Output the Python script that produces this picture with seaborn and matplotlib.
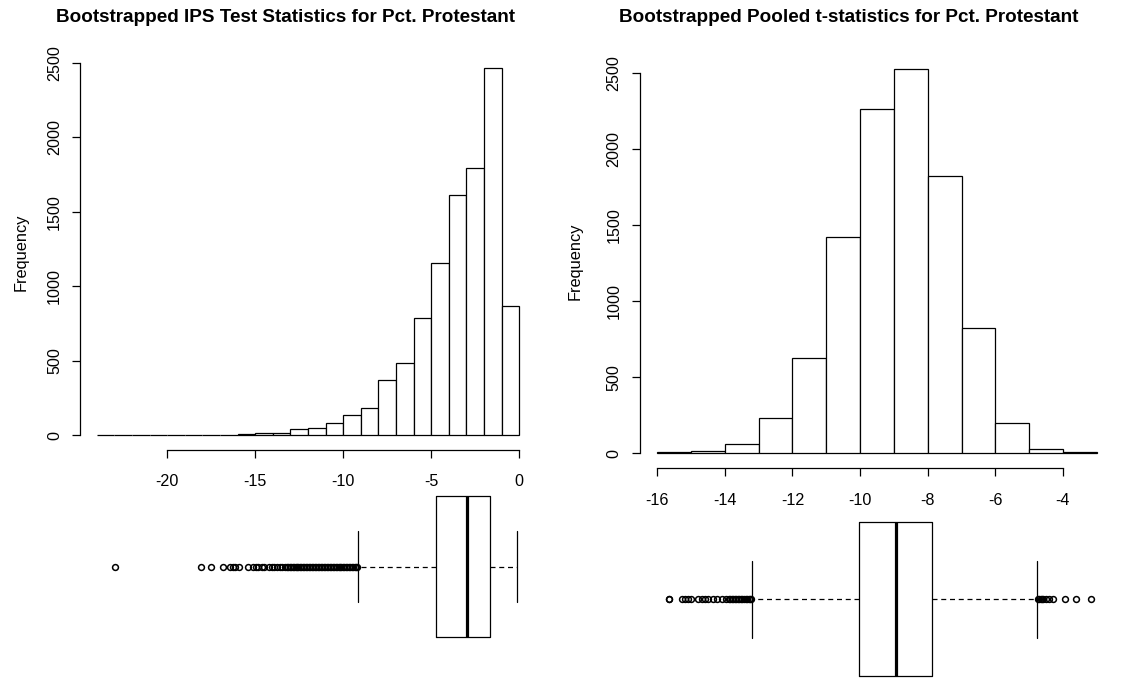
import numpy as np
import pandas as pd
import matplotlib
matplotlib.use("Agg")
import matplotlib.pyplot as plt
import seaborn as sns

# ---------------- data ----------------
ips_title = "Bootstrapped IPS Test Statistics for Pct. Protestant"
pooled_title = "Bootstrapped Pooled t-statistics for Pct. Protestant"

ips_edges = [-24, -23, -22, -21, -20, -19, -18, -17, -16, -15, -14, -13, -12,
             -11, -10, -9, -8, -7, -6, -5, -4, -3, -2, -1, 0]
ips_counts = [0, 1, 0, 0, 0, 0, 2, 4, 6, 15, 13, 45, 51,
              80, 136, 183, 373, 485, 789, 1153, 1611, 1792, 2462, 865]
ips_xticks = [-20, -15, -10, -5, 0]

pooled_edges = [-16, -15, -14, -13, -12, -11, -10, -9, -8, -7, -6, -5, -4, -3]
pooled_counts = [5, 15, 59, 232, 627, 1425, 2268, 2529, 1822, 820, 195, 28, 4]
pooled_xticks = [-16, -14, -12, -10, -8, -6, -4]

yticks = [0, 500, 1000, 1500, 2000, 2500]

# boxplot summaries (q1, median, q3, lower whisker, upper whisker)
ips_box = dict(q1=-4.72, med=-2.99, q3=-1.68, whislo=-9.18, whishi=-0.13)
ips_outliers = [-22.98, -18.10, -17.52, -16.85, -16.44, -16.29, -16.15, -15.91,
                -15.40, -15.11, -14.96, -14.83, -14.64, -14.49, -14.20, -14.07,
                -13.92, -13.78, -13.60, -13.45, -13.31, -13.22, -13.14, -13.05,
                -12.97, -12.88, -12.80, -12.71, -12.63, -12.55, -12.46, -12.38,
                -12.29, -12.21, -12.12, -12.04, -11.95, -11.87, -11.78, -11.70,
                -11.62, -11.53, -11.45, -11.36, -11.28, -11.19, -11.11, -11.02,
                -10.94, -10.86, -10.77, -10.69, -10.60, -10.52, -10.43, -10.35,
                -10.26, -10.18, -10.10, -10.01, -9.93, -9.84, -9.76, -9.67,
                -9.59, -9.50, -9.42, -9.34, -9.27, -9.21]

pooled_box = dict(q1=-10.03, med=-8.94, q3=-7.88, whislo=-13.19, whishi=-4.76)
pooled_outliers = [-15.65, -15.64, -15.28, -15.18, -15.08, -15.01, -14.79, -14.69,
                   -14.59, -14.49, -14.34, -14.22, -14.09, -13.97, -13.88, -13.84,
                   -13.80, -13.75, -13.70, -13.66, -13.62, -13.57, -13.52, -13.48,
                   -13.44, -13.39, -13.35, -13.30, -13.26, -13.22,
                   -4.74, -4.70, -4.66, -4.62, -4.58, -4.50, -4.40, -4.30,
                   -3.94, -3.62, -3.17]

# ---------------- style ----------------
sns.set_style("ticks")
plt.rcParams["font.family"] = ["Liberation Sans", "DejaVu Sans"]
plt.rcParams["text.color"] = "black"
plt.rcParams["axes.labelcolor"] = "black"

W, H = 1141, 679
fig = plt.figure(figsize=(W / 100, H / 100), dpi=100)


def px_axes(x0, y0, x1, y1):
    return fig.add_axes([x0 / W, 1 - y1 / H, (x1 - x0) / W, (y1 - y0) / H])


def r_xlim(lo, hi):
    ext = 0.04 * (hi - lo)
    return lo - ext, hi + ext


def draw_hist(ax, edges, counts, xticks, ylabel_pad):
    e = np.asarray(edges, dtype=float)
    df = pd.DataFrame({"value": (e[:-1] + e[1:]) / 2, "count": counts})
    sns.histplot(data=df, x="value", weights="count", bins=list(edges), ax=ax,
                 color="white", edgecolor="black", linewidth=0.9, alpha=1.0)
    ax.set_xlim(*r_xlim(edges[0], edges[-1]))
    ax.set_ylim(*r_xlim(0, max(counts)))
    ax.set_xticks(xticks)
    ax.set_yticks(yticks)
    ax.set_xticklabels([str(t) for t in xticks])
    ax.set_yticklabels([str(t) for t in yticks], rotation=90, va="center")
    for s in ("top", "right"):
        ax.spines[s].set_visible(False)
    ax.spines["bottom"].set_bounds(xticks[0], xticks[-1])
    ax.spines["left"].set_bounds(yticks[0], yticks[-1])
    for s in ("bottom", "left"):
        ax.spines[s].set_linewidth(0.9)
        ax.spines[s].set_color("black")
    ax.tick_params(axis="both", direction="out", length=6, width=0.9,
                   colors="black", labelsize=11.6)
    ax.tick_params(axis="x", pad=11.5)
    ax.tick_params(axis="y", pad=7)
    ax.set_xlabel("")
    ax.set_ylabel("Frequency", fontsize=11.8, labelpad=ylabel_pad, color="black")
    ax.grid(False)


def draw_box(ax, box, outliers, edges):
    stats = [dict(box, fliers=outliers)]
    ax.bxp(stats, positions=[1], widths=0.8, orientation="horizontal",
           capwidths=0.4, showfliers=True, patch_artist=False,
           boxprops=dict(color="black", linewidth=0.9),
           medianprops=dict(color="black", linewidth=2.3),
           whiskerprops=dict(color="black", linewidth=0.9, linestyle=(0, (4, 3))),
           capprops=dict(color="black", linewidth=0.9),
           flierprops=dict(marker="o", markersize=4.2, markerfacecolor="none",
                           markeredgecolor="black", markeredgewidth=1.1))
    ax.set_xlim(*r_xlim(edges[0], edges[-1]))
    ax.set_ylim(0.46, 1.54)
    ax.axis("off")


ax1 = px_axes(80, 53.7, 536, 450)
draw_hist(ax1, ips_edges, ips_counts, ips_xticks, 13)
ax2 = px_axes(639.7, 53.5, 1114.3, 468.4)
draw_hist(ax2, pooled_edges, pooled_counts, pooled_xticks, 17)

bx1 = px_axes(80, 471, 536, 662)
draw_box(bx1, ips_box, ips_outliers, ips_edges)
bx2 = px_axes(639.7, 495.3, 1114.3, 703.3)
draw_box(bx2, pooled_box, pooled_outliers, pooled_edges)

fig.text(285 / W, 1 - 17.5 / H, ips_title, ha="center", va="center",
         fontsize=13.6, fontweight="bold", color="black")
fig.text(848.5 / W, 1 - 17.5 / H, pooled_title, ha="center", va="center",
         fontsize=13.6, fontweight="bold", color="black")

fig.savefig("out.png", dpi=100, facecolor="white")
